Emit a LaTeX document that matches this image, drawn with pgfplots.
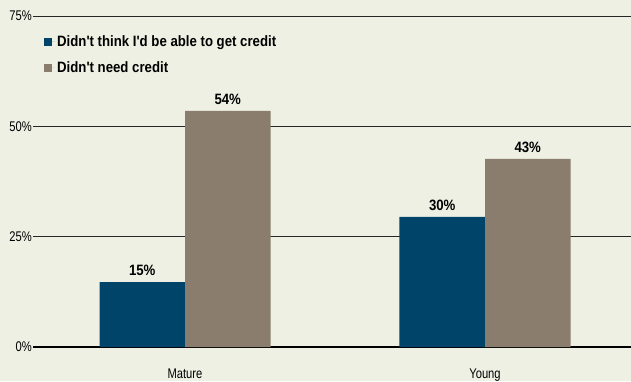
\documentclass[border=0pt]{standalone}
\usepackage{fontspec}
\setmainfont{Liberation Sans}
\newfontfamily\boldc{Liberation Sans}[FakeStretch=0.88]
\newfontfamily\regc{Liberation Sans}[FakeStretch=0.8]
\usepackage{pgfplots}
\pgfplotsset{compat=1.18}
\definecolor{bg}{RGB}{239,240,228}
\definecolor{cblue}{RGB}{0,68,106}
\definecolor{ctaupe}{RGB}{138,125,109}
\begin{document}
\begin{tikzpicture}
\fill[bg] (-33pt,-34pt) rectangle (598pt,347pt);
\begin{axis}[
  at={(0pt,0pt)}, anchor=south west,
  scale only axis, width=598pt, height=331pt,
  xmin=-0.5067, xmax=1.4867, ymin=0, ymax=75,
  clip=false,
  ybar=0pt, bar width=85.5pt,
  xtick={0,1}, xticklabels={Mature,Young},
  ytick={25,50,75}, yticklabels={25\%,50\%,75\%},
  extra y ticks={0}, extra y tick labels={0\%},
  extra y tick style={grid style={black, line width=2.6pt}},
  ymajorgrids, grid style={black!85, line width=0.9pt},
  axis line style={draw=none}, major tick length=0pt,
  tick label style={font=\regc\fontsize{14}{14}\selectfont},
  yticklabel style={anchor=east, inner sep=1pt},
  xticklabel style={yshift=-18pt},
  legend style={draw=none, fill=none, at={(0,1)}, anchor=north west,
    xshift=8pt, yshift=-15pt, row sep=10pt,
    font=\boldc\bfseries\fontsize{15}{15}\selectfont},
  legend cell align=left,
  legend image code/.code={\draw[#1,draw=none] (0pt,-4.5pt) rectangle (8pt,3.5pt); \path (0pt,0pt) -- (11pt,0pt);},
  nodes near coords, point meta=explicit symbolic,
  every node near coord/.append style={font=\boldc\bfseries\fontsize{15}{15}\selectfont, text=black, anchor=south, yshift=3pt},
]
\addplot[fill=cblue, draw=none] coordinates {(0,14.7)[15\%] (1,29.5)[30\%]};
\addplot[fill=ctaupe, draw=none] coordinates {(0,53.5)[54\%] (1,42.6)[43\%]};
\legend{Didn't think I'd be able to get credit, Didn't need credit}
\end{axis}
\pgfresetboundingbox
\path (-33pt,-34pt) rectangle (598pt,347pt);
\end{tikzpicture}
\end{document}
